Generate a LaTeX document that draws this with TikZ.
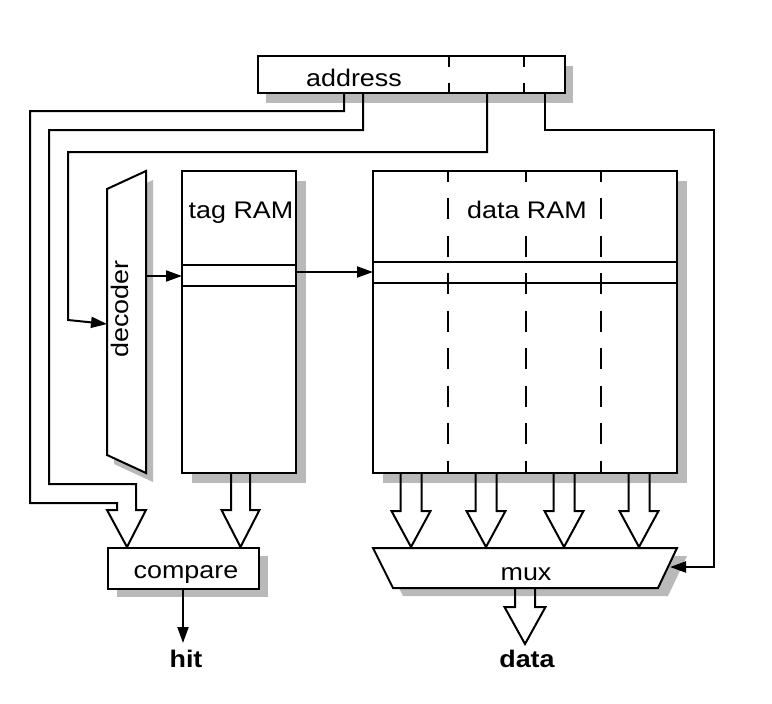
\documentclass[tikz,border=0pt]{standalone}
\usepackage{fontspec}
\setmainfont{Liberation Sans}[FakeStretch=1.12]
\usetikzlibrary{arrows.meta}
\newcommand\busdown[6]{% center, top, head base, tip, shaft half, head half
  \draw ({#1-#5},#2) -- ({#1-#5},#3) -- ({#1-#6},#3) -- (#1,#4) -- ({#1+#6},#3) -- ({#1+#5},#3) -- ({#1+#5},#2);}
\begin{document}
\begin{tikzpicture}[x=1pt,y=-1pt, line width=2pt,
  box/.style={draw, fill=white, inner sep=0pt, outer sep=0pt, anchor=north west},
  shadowfill/.style={fill=gray!55, draw=none},
  txt/.style={font=\fontsize{24}{28}\selectfont, inner sep=1pt, anchor=base},
  btxt/.style={font=\fontsize{24}{28}\selectfont\bfseries, inner sep=1pt, anchor=base},
  arr/.style={-{Triangle[length=16pt,width=11pt]}},
  dashline/.style={dash pattern=on 21pt off 16.5pt, dash phase=10.5pt}]
\useasboundingbox (0,0) rectangle (772,704);

% shadows
\fill[shadowfill] (266,66) rectangle (573,103);
\fill[shadowfill] (192,181) rectangle (306,483);
\fill[shadowfill] (383,181) rectangle (687,483);
\fill[shadowfill] (117,556) rectangle (268,597);
\fill[shadowfill] (114,198) -- (153,180) -- (153,482) -- (114,464) -- cycle;
\fill[shadowfill] (383,556) -- (687,556) -- (668,596) -- (403,596) -- cycle;

% boxes
\node[box, minimum width=307pt, minimum height=37pt] (addr) at (258,56) {};
\node[box, minimum width=114pt, minimum height=302pt] (tag) at (182,171) {};
\node[box, minimum width=304pt, minimum height=302pt] (dram) at (373,171) {};
\node[box, minimum width=151pt, minimum height=41pt] (cmp) at (108,548) {};

% decoder
\coordinate (decTL) at (107,189);
\coordinate (decTR) at (146,171);
\coordinate (decBR) at (146,473);
\coordinate (decBL) at (107,455);
\draw[fill=white] (decTL) -- (decTR) -- (decBR) -- (decBL) -- cycle;

% mux
\coordinate (muxTL) at (373,548);
\coordinate (muxTR) at (677,548);
\coordinate (muxBR) at (658,588);
\coordinate (muxBL) at (393,588);
\draw[fill=white] (muxTL) -- (muxTR) -- (muxBR) -- (muxBL) -- cycle;

% address field separators
\draw (addr.north -| 449,0) -- (449,67);
\draw (449,83) -- (addr.south -| 449,0);
\draw (addr.north -| 524,0) -- (524,67);
\draw (524,83) -- (addr.south -| 524,0);

% data RAM column dividers
\draw[dashline] (dram.north -| 448,0) -- (dram.south -| 448,0);
\draw[dashline] (dram.north -| 526,0) -- (dram.south -| 526,0);
\draw[dashline] (dram.north -| 601,0) -- (dram.south -| 601,0);

% selected row bands
\draw (tag.west |- 0,265) -- (tag.east |- 0,265);
\draw (tag.west |- 0,286) -- (tag.east |- 0,286);
\draw (dram.west |- 0,262) -- (dram.east |- 0,262);
\draw (dram.west |- 0,283) -- (dram.east |- 0,283);

% texts
\node[txt] (addrtxt) at (354,86) {address};
\node[txt] (tagtxt) at (241,218) {tag RAM};
\node[txt, fill=white, inner sep=3pt] (dramtxt) at (527,218) {data RAM};
\node[txt] (cmptxt) at (186,578) {compare};
\node[txt] (muxtxt) at (526,580) {mux};
\node[txt, rotate=90] (dectxt) at (128,309) {decoder};
\node[btxt] (hit) at (186,667) {hit};
\node[btxt] (data) at (527,667) {data};

% address -> compare (bus)
\draw (addr.south -| 344,0) |- (30,111) |- (117,503) -- (117,510) -- (107,510) -- (127,547)
      -- (146,510) -- (136,510) -- (136,484) -| (49,130) -| (addr.south -| 363,0);
% address -> decoder
\draw[arr] (addr.south -| 487,0) |- (68,152) -- (68,320) -- (decTL |- 0,324);
% address -> mux
\draw[arr] (addr.south -| 545,0) |- (714,130) |- (670,567);
% decoder -> tag RAM
\draw[arr] (decTR |- 0,276) -- (tag.west |- 0,276);
% tag RAM -> data RAM
\draw[arr] (tag.east |- 0,272) -- (dram.west |- 0,272);
% compare -> hit
\draw[arr] (cmp.south -| 183,0) -- (183,643);

% hollow bus arrows
\busdown{240.5}{473}{510}{547}{9.5}{19}
\busdown{411}{473}{511}{547}{10.5}{19.5}
\busdown{486}{473}{511}{547}{10.5}{19.5}
\busdown{564}{473}{511}{547}{10.5}{19.5}
\busdown{639}{473}{511}{547}{10.5}{19.5}
\busdown{525}{588}{607}{644}{10}{20.5}
\end{tikzpicture}
\end{document}
